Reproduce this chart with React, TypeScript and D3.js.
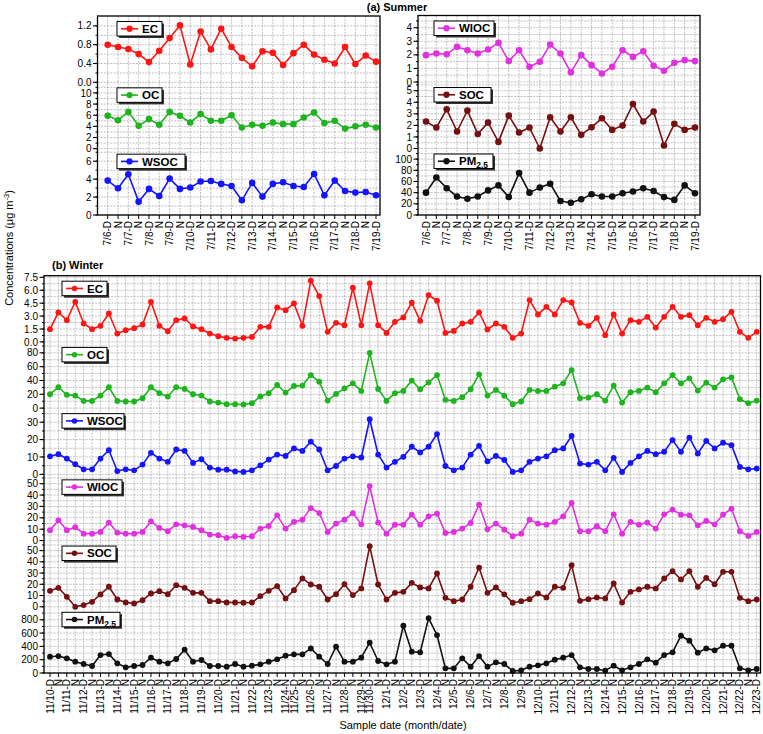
import React from "react";
import * as d3 from "d3";

// ---------- categories (x tick labels) ----------
const summerLabels = ["7/6-D","N","7/7-D","N","7/8-D","N","7/9-D","N","7/10-D","N","7/11-D","N","7/12-D","N","7/13-D","N","7/14-D","N","7/15-D","N","7/16-D","N","7/17-D","N","7/18-D","N","7/19-D"];
const winterLabels = ["11/10-D","N","11/11-D","N","11/12-D","N","11/13-D","N","11/14-D","N","11/15-D","N","11/16-D","N","11/17-D","N","11/18-D","N","11/19-D","N","11/20-D","N","11/21-D","N","11/22-D","N","11/23-D","N","11/24-N","11/25-D","N","11/26-D","N","11/27-D","N","11/28-D","N","11/29-N","11/30-D","N","12/1-D","N","12/2-D","N","12/3-D","N","12/4-D","N","12/5-D","N","12/6-D","N","12/7-D","N","12/8-D","N","12/9-D","N","12/10-D","N","12/11-D","N","12/12-D","N","12/13-D","N","12/14-D","N","12/15-D","N","12/16-D","N","12/17-D","N","12/18-D","N","12/19-D","N","12/20-D","N","12/21-D","N","12/22-D","N","12/23-D"];

// ---------- summer series ----------
const sEC = [0.80,0.75,0.71,0.60,0.43,0.67,0.94,1.21,0.38,1.08,0.70,1.14,0.75,0.52,0.34,0.66,0.63,0.37,0.62,0.80,0.59,0.48,0.40,0.75,0.39,0.57,0.44];
const sOC = [5.9,5.1,6.6,4.1,5.3,4.3,6.6,5.9,4.7,6.2,5.0,5.0,6.0,3.8,4.3,4.1,4.7,4.4,4.4,5.6,6.5,4.6,5.0,3.6,4.0,4.3,3.8];
const sWSOC = [3.84,2.98,4.55,1.49,2.91,2.12,4.06,2.91,3.06,3.73,3.80,3.47,3.24,1.64,3.58,2.05,3.47,3.65,3.24,3.13,4.58,2.20,3.84,2.68,2.50,2.57,2.20];
const sWIOC = [1.98,2.10,2.05,2.59,2.34,2.10,2.39,2.88,1.54,2.34,1.12,1.49,2.76,2.10,0.71,1.98,1.24,0.63,1.12,2.34,1.85,2.27,1.20,0.83,1.41,1.61,1.54];
const sSOC = [2.33,1.81,3.39,1.47,3.28,1.26,2.24,0.57,2.84,1.38,1.81,0.0,2.70,1.47,2.70,1.18,1.84,2.61,1.61,1.98,3.85,2.33,3.19,0.26,2.13,1.61,1.81];
const sPM = [40,67,48,33,29,33,44,53,32,75,40,49,56,25,22,28,37,33,33,39,42,48,43,32,27,53,39];

// ---------- winter series ----------
const wEC = [1.48,3.42,2.53,4.66,2.14,1.48,1.87,3.3,0.97,1.36,1.6,2.02,4.66,1.87,1.24,2.53,2.72,1.79,1.48,0.97,0.66,0.47,0.39,0.47,0.58,1.75,1.75,4.0,3.69,4.47,1.87,7.11,5.32,1.17,2.22,1.94,6.3,1.94,6.8,1.94,1.05,2.33,2.84,4.55,2.45,5.44,4.78,1.05,1.28,2.14,2.33,3.42,1.44,2.14,1.75,0.47,0.97,4.86,3.19,4.08,3.19,4.86,4.59,2.22,1.87,2.8,0.78,3.19,0.97,2.53,2.33,2.91,1.67,2.91,4.08,2.91,3.11,1.94,2.8,2.33,2.64,3.5,1.17,0.47,1.17];
const wOC = [20.1,30.2,19.2,18.2,10.5,10.5,18.2,30.2,10.5,9.6,9.6,14.4,30.2,21.6,16.8,30.2,27.8,20.1,18.2,9.6,8.1,5.7,5.7,5.3,7.2,16.8,21.6,33.5,22.5,32.1,32.6,47.9,38.3,11.0,20.6,28.7,35.9,24.9,80,27.8,10.5,21.6,24.9,39.8,27.3,37.4,47.9,12.0,10.5,15.8,27.3,48.9,18.2,26.3,18.0,5.7,9.6,26.3,24.9,24.9,31.1,35.9,55.1,14.4,15.3,20.1,11.0,32.6,8.1,23.0,24.9,29.7,23.0,35.9,47.9,35.9,43.1,25.4,36.9,29.7,41.7,44.5,12.9,7.2,11.0];
const wWSOC = [10.4,11.6,9.1,5.8,2.9,2.9,9.1,13.9,1.9,2.9,2.3,5.6,12.4,9.1,7.2,14.3,13.5,6.6,8.7,3.9,2.7,2.7,1.7,1.4,2.3,5.2,8.5,11.4,10.6,14.9,13.5,18.8,14.3,2.3,4.8,9.1,10.4,9.7,31.7,11.4,3.9,7.2,10.1,15.9,12.6,15.9,23.2,4.8,2.3,3.9,11.4,16.4,7.5,10.6,8.3,1.4,2.3,7.2,9.1,10.4,13.9,14.9,22.1,6.2,5.6,7.2,2.3,9.5,1.4,6.6,10.4,13.5,11.6,13.0,19.7,13.0,21.1,12.0,19.2,14.9,18.2,16.8,4.3,2.9,3.3];
const wWIOC = [9.1,17.8,9.1,11.7,6.1,6.1,7.6,15.8,7.0,6.1,6.1,7.6,16.9,11.1,8.2,14.3,13.4,12.0,9.1,5.3,4.7,2.3,3.8,3.2,3.8,10.5,12.8,22.2,10.5,16.4,18.4,28.6,24.2,7.6,14.9,18.4,24.2,14.3,47.9,15.8,6.1,14.0,14.0,22.8,14.0,21.3,23.7,6.7,7.6,10.5,15.5,31.5,9.9,14.9,9.6,3.8,6.1,18.4,14.9,14.0,16.4,21.3,33.0,8.2,8.2,12.6,8.2,23.1,6.1,16.4,14.0,15.8,10.5,23.1,27.2,22.8,22.2,13.4,17.2,14.3,22.8,28.0,8.2,4.1,7.6];
const wSOC = [14.2,16.9,8.9,0,1.5,4.4,11.0,17.8,6.5,3.8,3.0,5.9,11.8,13.9,11.2,19.2,16.9,12.4,12.4,5.0,5.0,3.8,3.8,3.6,3.8,9.5,14.2,18.4,7.4,14.8,25.2,19.8,17.8,6.5,11.2,20.1,10.4,16.3,53.9,19.8,6.5,12.4,13.3,21.3,17.2,16.3,29.6,8.0,5.0,6.5,17.8,34.9,12.4,17.2,11.1,3.6,5.0,6.8,11.8,8.3,17.8,16.9,37.0,5.3,6.8,8.3,7.4,20.7,3.8,13.3,15.4,17.8,16.3,25.2,31.7,24.3,31.7,17.8,25.7,20.1,31.1,31.1,8.0,5.0,6.5];
const wPM = [245,255,220,170,135,105,270,285,145,85,105,120,230,170,145,210,350,170,195,105,105,95,135,95,110,130,170,205,260,280,280,370,245,135,395,170,170,230,455,180,130,170,710,320,310,825,570,70,70,220,95,255,95,160,135,30,40,95,115,145,200,230,270,85,60,60,35,110,40,85,135,205,155,270,310,560,485,305,370,340,410,410,70,40,60];

// ---------- y tick values ----------
const ticksSEC = [0, 0.4, 0.8, 1.2];
const ticksSOC_OC = [0, 2, 4, 6, 8, 10];
const ticksSWSOC = [0, 2, 4, 6];
const ticksSWIOC = [0, 1, 2, 3, 4];
const ticksSSOC = [0, 1, 2, 3, 4, 5];
const ticksSPM = [0, 20, 40, 60, 80, 100];
const ticksWEC = [0, 1.5, 3, 4.5, 6, 7.5];
const ticksWOC = [0, 20, 40, 60, 80];
const ticksWWSOC = [0, 10, 20, 30];
const ticksWWIOC = [0, 10, 20, 30, 40, 50];
const ticksWSOC = [0, 10, 20, 30, 40, 50];
const ticksWPM = [0, 200, 400, 600, 800];

const COLORS: Record<string, string> = {
  EC: "#ff1414",
  OC: "#1db41d",
  WSOC: "#1414ff",
  WIOC: "#e030e0",
  SOC: "#741010",
  PM: "#111111",
};

const FONT = "'Liberation Sans', Arial, Helvetica, sans-serif";

type Sub = {
  key: string;
  values: number[];
  max: number;
  ticks: number[];
  minor: number;
  digits: number;
  legendW: number;
};

type PanelProps = {
  x0: number; x1: number; y0: number; y1: number;
  xStart: number; xEnd: number;
  labels: string[];
  subs: Sub[];
  legendX: number;
  r: number;
};

function LegendLabel({ k }: { k: string }) {
  if (k === "PM") {
    return (
      <>
        PM<tspan fontSize="8.5" dy="3">2.5</tspan>
      </>
    );
  }
  return <>{k}</>;
}

function Panel({ x0, x1, y0, y1, xStart, xEnd, labels, subs, legendX, r }: PanelProps) {
  const n = labels.length;
  const x = d3.scaleLinear().domain([0, n - 1]).range([xStart, xEnd]);
  const h = (y1 - y0) / subs.length;
  const grid = "#959595";
  const items: React.ReactNode[] = [];

  // vertical grid
  d3.range(n).forEach((i) => {
    items.push(
      <line key={`vg${i}`} x1={x(i)} x2={x(i)} y1={y0} y2={y1} stroke={grid} strokeWidth={0.6} strokeDasharray="2,1.2" />
    );
  });

  subs.forEach((s, k) => {
    const top = y0 + k * h;
    const bot = top + h;
    const y = d3.scaleLinear().domain([0, s.max]).range([bot, top]);
    const minors = d3.range(0, s.max + 1e-9, s.minor);
    minors.forEach((v, j) => {
      if (y(v) < top + 0.5) return;
      items.push(
        <line key={`hg${k}-${j}`} x1={x0} x2={x1} y1={y(v)} y2={y(v)} stroke={grid} strokeWidth={0.6} strokeDasharray="2,1.2" />
      );
      items.push(
        <line key={`mt${k}-${j}`} x1={x0 - 2} x2={x0} y1={y(v)} y2={y(v)} stroke="#000" strokeWidth={1} />
      );
    });
    s.ticks.forEach((v, j) => {
      items.push(
        <line key={`t${k}-${j}`} x1={x0 - 4.5} x2={x0} y1={y(v)} y2={y(v)} stroke="#000" strokeWidth={1.1} />
      );
      items.push(
        <text key={`tl${k}-${j}`} x={x0 - 6} y={y(v)} dy="0.36em" textAnchor="end" fontSize={10} fontFamily={FONT} fill="#000">
          {v.toFixed(s.digits)}
        </text>
      );
    });
  });

  // series
  subs.forEach((s, k) => {
    const top = y0 + k * h;
    const bot = top + h;
    const y = d3.scaleLinear().domain([0, s.max]).range([bot, top]);
    const line = d3.line<number>().x((_, i) => x(i)).y((d) => y(d));
    const c = COLORS[s.key];
    items.push(<path key={`p${k}`} d={line(s.values) || ""} fill="none" stroke={c} strokeWidth={1.6} strokeLinejoin="round" />);
    s.values.forEach((v, i) => {
      items.push(<circle key={`c${k}-${i}`} cx={x(i)} cy={y(v)} r={r} fill={c} />);
    });
  });

  // legends
  subs.forEach((s, k) => {
    const top = y0 + k * h;
    const by = top + 5.5;
    const bh = 14.5;
    const c = COLORS[s.key];
    items.push(
      <g key={`lg${k}`}>
        <rect x={legendX + 2} y={by + 2} width={s.legendW} height={bh} fill="#333" />
        <rect x={legendX} y={by} width={s.legendW} height={bh} fill="#fff" stroke="#000" strokeWidth={1} />
        <line x1={legendX + 4} x2={legendX + 21} y1={by + bh / 2} y2={by + bh / 2} stroke={c} strokeWidth={1.6} />
        <circle cx={legendX + 12.5} cy={by + bh / 2} r={r * 0.95} fill={c} />
        <text x={legendX + 25} y={by + bh / 2} dy="0.36em" fontSize={11.5} fontWeight="bold" fontFamily={FONT} fill="#000">
          <LegendLabel k={s.key} />
        </text>
      </g>
    );
  });

  // x ticks and labels
  d3.range(n).forEach((i) => {
    items.push(<line key={`xt${i}`} x1={x(i)} x2={x(i)} y1={y1} y2={y1 + 4} stroke="#000" strokeWidth={1} />);
    items.push(
      <text key={`xl${i}`} transform={`translate(${x(i)},${y1 + 6}) rotate(-90)`} dy="0.36em" textAnchor="end" fontSize={10} fontFamily={FONT} fill="#000">
        {labels[i]}
      </text>
    );
  });

  // frame
  items.push(<rect key="frame" x={x0} y={y0} width={x1 - x0} height={y1 - y0} fill="none" stroke="#000" strokeWidth={1.3} />);

  return <g>{items}</g>;
}

export default function App() {
  const summerLeft: Sub[] = [
    { key: "EC", values: sEC, max: 1.41, ticks: ticksSEC, minor: 0.2, digits: 1, legendW: 45 },
    { key: "OC", values: sOC, max: 11.9, ticks: ticksSOC_OC, minor: 1, digits: 0, legendW: 45 },
    { key: "WSOC", values: sWSOC, max: 7.4, ticks: ticksSWSOC, minor: 1, digits: 0, legendW: 68 },
  ];
  const summerRight: Sub[] = [
    { key: "WIOC", values: sWIOC, max: 4.9, ticks: ticksSWIOC, minor: 0.5, digits: 0, legendW: 60 },
    { key: "SOC", values: sSOC, max: 5.75, ticks: ticksSSOC, minor: 0.5, digits: 0, legendW: 57 },
    { key: "PM", values: sPM, max: 119, ticks: ticksSPM, minor: 10, digits: 0, legendW: 59 },
  ];
  const winter: Sub[] = [
    { key: "EC", values: wEC, max: 7.69, ticks: ticksWEC, minor: 0.75, digits: 1, legendW: 45 },
    { key: "OC", values: wOC, max: 95.8, ticks: ticksWOC, minor: 10, digits: 0, legendW: 45 },
    { key: "WSOC", values: wWSOC, max: 38.1, ticks: ticksWWSOC, minor: 5, digits: 0, legendW: 62 },
    { key: "WIOC", values: wWIOC, max: 58.2, ticks: ticksWWIOC, minor: 5, digits: 0, legendW: 60 },
    { key: "SOC", values: wSOC, max: 58.9, ticks: ticksWSOC, minor: 5, digits: 0, legendW: 54 },
    { key: "PM", values: wPM, max: 995, ticks: ticksWPM, minor: 100, digits: 0, legendW: 58 },
  ];

  return (
    <svg width={763} height={734} style={{ position: "absolute", left: 0, top: 0, background: "#fff" }} fontFamily={FONT}>
      <rect x={0} y={0} width={763} height={734} fill="#fff" />
      <text x={397} y={11} textAnchor="middle" fontSize={11} fontWeight="bold">(a) Summer</text>
      <Panel x0={97.5} x1={380} y0={16} y1={215} xStart={107.7} xEnd={376} labels={summerLabels} subs={summerLeft} legendX={117} r={3.3} />
      <Panel x0={418} x1={700} y0={15.5} y1={215} xStart={426} xEnd={695} labels={summerLabels} subs={summerRight} legendX={434} r={3.3} />
      <text x={52} y={269} fontSize={11} fontWeight="bold">(b) Winter</text>
      <Panel x0={44} x1={760.5} y0={275.7} y1={673} xStart={50} xEnd={756.7} labels={winterLabels} subs={winter} legendX={62} r={2.9} />
      <text transform="translate(13,248) rotate(-90)" textAnchor="middle" fontSize={11} fontFamily={FONT}>
        Concentrations (μg m<tspan fontSize="7.5" dy="-4">-3</tspan><tspan dy="4">)</tspan>
      </text>
      <text x={403} y={729} textAnchor="middle" fontSize={11}>Sample date (month/date)</text>
    </svg>
  );
}
